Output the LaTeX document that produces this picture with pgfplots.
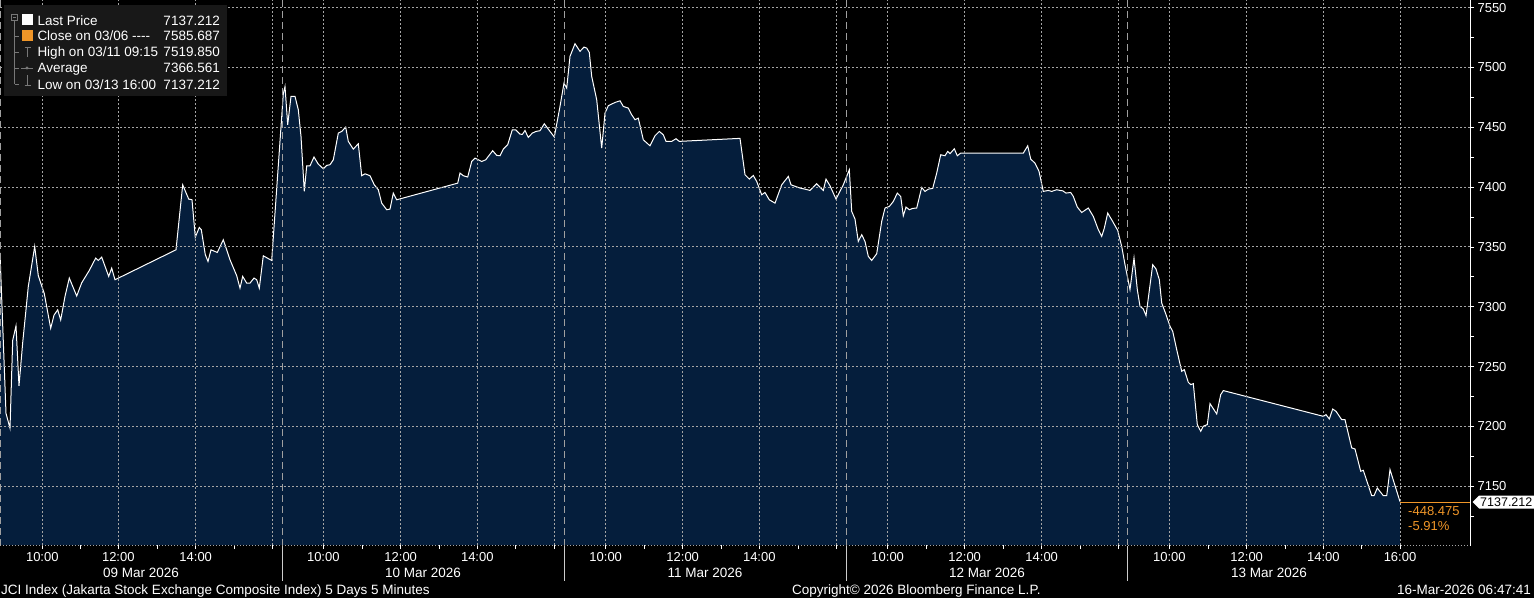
\documentclass[border=0pt]{standalone}
\usepackage{fontspec}
\setmainfont{Liberation Sans}
\usepackage{pgfplots}
\usepackage{pgfplotstable}
\pgfplotsset{compat=1.18}

\definecolor{navy}{RGB}{5,30,60}
\definecolor{bbgorange}{RGB}{240,150,40}
\definecolor{gridgray}{RGB}{165,165,165}
\definecolor{divgray}{RGB}{160,160,160}
\definecolor{legbg}{RGB}{24,24,24}
\definecolor{treegray}{RGB}{120,120,120}

% JCI 5 days, x = position along the time axis (px), y = index level
\pgfplotstableread{
x y
0 7345
6 7211
10 7198.6
12.7 7272
16 7284
19 7234
22.7 7270
28.3 7317
34.7 7350.4
38.3 7326
44.3 7311
50.7 7282
54 7293
57.7 7297.5
60.7 7289
65 7308.7
69.3 7324
76.7 7309
81.7 7320
89.3 7330.4
95.7 7340.7
98.3 7338.7
101.7 7341.5
108.7 7325.4
111.7 7332.3
115 7322.6
176 7347.6
182.7 7401.9
188.7 7390
192 7389.4
195.3 7358.2
199.3 7366.3
201.3 7364.4
205.3 7343.5
208 7337.9
211 7347.6
217.3 7345.4
223.3 7356
230 7339.3
236.7 7326
240 7315.6
242.7 7325.4
246.7 7319.8
250 7319.8
254 7324
256.7 7322.6
259.3 7315.6
263.3 7342.6
271.7 7338.7
283.3 7478
285 7484
287.7 7452.1
291 7475.8
295 7475.8
298.3 7464.6
301 7442.3
304.3 7396.4
306.7 7417.8
310 7417.8
314 7425.1
318.3 7419.2
323.3 7415.3
326.7 7418.1
330 7418.7
333.3 7422.8
338.3 7445.1
341.7 7446.5
345.7 7450.1
348.3 7438.2
353.3 7431.7
358.3 7436.2
361.7 7409.5
365 7411.1
370 7409.5
374.3 7401.9
378.3 7397.8
381.7 7386.6
386.7 7381.1
390 7381.6
393.3 7395
396.7 7389.4
457.7 7403.3
460 7411.7
463.3 7409.5
467.7 7408.4
471.7 7421.4
475 7424.2
481.7 7421.4
485.7 7422.8
492.7 7430.4
496.7 7426.5
500 7426.2
503.3 7431.7
507.7 7435.4
512.3 7447.9
515.7 7447.9
520 7444.3
522.3 7444
525 7447.3
528.3 7441.5
532.3 7445.1
536 7446.5
540 7447.1
544.3 7452.9
554.3 7441.8
560 7467.4
564 7486.9
566.7 7482.7
570 7509.2
575 7519.8
580 7513.4
584 7517
586.7 7516.1
589.3 7512.5
591.7 7492.5
596.7 7473
601.7 7432.6
605 7461.8
608.3 7468
615 7470.7
620 7472.1
623.3 7467.4
628.3 7466
631.7 7460.4
635 7456.3
638.3 7457.6
643.3 7439.5
650 7434.5
655 7442.9
659.3 7446.5
663.3 7443.7
666 7438.2
671.7 7438.2
676 7440.4
679.3 7438.2
740 7440.7
745 7410.3
749.3 7406.7
753.3 7409.7
756.7 7404.7
761.7 7393.6
765 7395.5
769.3 7389.4
775 7386.6
781.7 7401.9
788.3 7408.9
791 7401.9
800 7399.2
805 7398.3
810 7397.2
816.7 7402.8
823.3 7397.2
826 7406.7
830 7401.1
836 7390
843.3 7401.9
849.3 7414.5
851.7 7379.7
855 7373.3
858.3 7354.6
861.7 7360.2
865 7354.6
868.3 7342.1
871.7 7338.7
876.7 7344.3
881.7 7371.3
885 7382.5
889.3 7383.8
893.3 7388
897.3 7395
900.7 7392.2
903.3 7376
906 7383.3
909.3 7381.1
912.7 7382.2
916.7 7382.5
921.7 7399.7
925 7396.4
928.3 7398.3
932.7 7398.9
936.7 7411.7
940.7 7427
945 7426.2
947.7 7429.8
950 7427.9
954.3 7432
957.3 7426.2
960.7 7428.4
1023.3 7428.4
1027.7 7434.5
1030.7 7423.4
1035 7420
1039 7413.1
1043.3 7396.4
1048.3 7397.2
1051.7 7396.4
1056.7 7397.8
1060 7397.2
1062.7 7396.9
1066 7395
1070.7 7395.5
1073.3 7392.2
1077.3 7383.3
1081.7 7378.8
1088.3 7382.5
1093.3 7375.5
1098.3 7364.4
1101.7 7358.8
1104.3 7365.7
1107.7 7378.3
1111.7 7372.7
1117.7 7363.8
1121.7 7350.4
1125 7335.2
1130 7314.4
1134 7340.8
1137.3 7314.4
1140 7300.4
1143.3 7298.2
1146 7292.6
1152.7 7335.2
1156 7331.6
1159.3 7322.7
1161.7 7303.2
1166 7293.5
1170 7283.7
1172.7 7279.5
1176.7 7264.2
1181.7 7246.1
1184.3 7247.5
1188.3 7236.9
1190.7 7235
1193.3 7235.8
1197.3 7201.6
1200.7 7196
1203.3 7200.2
1207.3 7201.6
1210 7219.1
1216.7 7210.5
1220.7 7226.6
1223.3 7230
1323.3 7208.5
1326 7209.9
1329.3 7206.3
1332.7 7214.6
1336 7212.7
1341.7 7205.7
1345 7205.7
1351.7 7182.1
1355 7181.2
1360.7 7162.6
1363.3 7163.4
1371.7 7142.2
1374 7142.2
1377.3 7148.6
1383.3 7142.2
1386.7 7142.2
1390 7164
1400 7137.212
}\jci

\begin{document}
\begin{tikzpicture}
\fill[black] (0pt,-53pt) rectangle (1534pt,545pt);
\begin{axis}[
  at={(0pt,0pt)}, anchor=south west,
  axis on top,
  x=1pt, y=1.197pt,
  xmin=0, xmax=1470, ymin=7101, ymax=7556.5,
  axis line style={draw=none},
  tick style={white, line width=0.8pt},
  tick align=outside,
  major tick length=4pt, minor tick length=4pt,
  xtick pos=bottom, ytick pos=right, yticklabel pos=right,
  ytick={7150,7200,...,7550},
  minor ytick={7125,7175,...,7525},
  xtick={42.3,118.3,195.7,323.3,400.7,477.3,605.7,682.7,759.3,887.7,964.7,1041.7,1169.3,1246.7,1323.3,1400},
  xticklabels={10:00,12:00,14:00,10:00,12:00,14:00,10:00,12:00,14:00,10:00,12:00,14:00,10:00,12:00,14:00,16:00},
  minor xtick={80.3,157,234.2,362,439,515.8,644.2,721,798,926.2,1003.2,1080.2,1208,1285,1361.7},
  extra x ticks={272.7,554.3,836.7,1118.7},
  extra x tick labels={},
  grid=major,
  major grid style={gridgray, line width=0.9pt, dash pattern=on 1.6pt off 2.4pt},
  ticklabel style={font=\fontsize{13}{15}\selectfont, text=white},
  /pgf/number format/1000 sep={},
  /pgf/number format/assume math mode=true,
]
\addplot[draw=none, fill=navy] table[x=x,y=y]{\jci} \closedcycle;
\addplot[white, line width=1pt] table[x=x,y=y]{\jci};
\end{axis}
\begin{scope}[x=1pt, y=-1pt, yshift=545pt]
  \tikzset{txt/.style={inner sep=0, text=white, font=\fontsize{13.5}{15}\selectfont}}
  % day dividers
  \foreach \d in {0.6,282.5,564,846,1127.5}
    \draw[divgray, line width=0.9pt, dash pattern=on 7pt off 4pt] (\d,0) -- (\d,545);
  \foreach \d in {282.5,564,846,1127.5}
    \draw[white!80!black, line width=0.8pt] (\d,546) -- (\d,581);
  % axis lines
  \draw[gridgray, line width=0.8pt, dash pattern=on 1.4pt off 1.6pt] (0,545) -- (1470,545);
  \draw[white, line width=0.9pt] (1470,0) -- (1470,545.5);
  % date labels
  \foreach \c/\t in {141/09 Mar 2026,423/10 Mar 2026,705/11 Mar 2026,987/12 Mar 2026,1269/13 Mar 2026}
    \node[txt, anchor=base] at (\c,577.5) {\t};
  % footer
  \node[txt, anchor=base west] at (1,594) {JCI Index (Jakarta Stock Exchange Composite Index) 5 Days 5 Minutes};
  \node[txt, anchor=base west] at (792,594) {Copyright© 2026 Bloomberg Finance L.P.};
  \node[txt, anchor=base east] at (1531,594) {16-Mar-2026 06:47:41};
  % last price marker
  \draw[bbgorange, line width=0.9pt] (1400,502) -- (1470,502);
  \fill[white] (1472.7,502) -- (1479,495.5) -- (1534,495.5) -- (1534,508.5) -- (1479,508.5) -- cycle;
  \node[anchor=base west, inner sep=0, text=black, font=\fontsize{12.5}{14}\selectfont] at (1480,506.8) {7137.212};
  \node[anchor=base west, inner sep=0, text=bbgorange, font=\fontsize{13}{15}\selectfont] at (1408,515) {-448.475};
  \node[anchor=base west, inner sep=0, text=bbgorange, font=\fontsize{13}{15}\selectfont] at (1408,530.7) {-5.91\%};
  % legend
  \fill[legbg] (3.5,5) rectangle (226.5,96.5);
  \draw[treegray, line width=0.7pt] (11.5,14.5) rectangle (17.5,20.5);
  \draw[treegray, line width=0.7pt] (12.8,17.5) -- (16.2,17.5);
  \draw[treegray, line width=0.7pt] (14.5,20.5) -- (14.5,84.5);
  \foreach \r in {36.5,52.5,68.5,84.5}
    \draw[treegray, line width=0.7pt] (14.5,\r) -- (18.5,\r);
  \fill[white] (21.5,14.5) rectangle (32.5,25.5);
  \fill[bbgorange] (21.5,30.5) rectangle (32.5,41.5);
  \draw[treegray, line width=0.8pt] (24.5,47) -- (30.5,47) (27.5,47) -- (27.5,57);
  \draw[treegray, line width=0.8pt] (21,68) -- (33,68);
  \fill[treegray] (27,68) circle (1.6);
  \draw[treegray, line width=0.8pt] (27.5,75) -- (27.5,85) (24.5,85) -- (30.5,85);
  \node[txt, anchor=base west] at (37.3,25.3) {Last Price};
  \node[txt, anchor=base west] at (37.3,40.7) {Close on 03/06 {-}{-}{-}{-}};
  \node[txt, anchor=base west] at (37.3,56.7) {High on 03/11 09:15};
  \node[txt, anchor=base west] at (37.3,72.7) {Average};
  \node[txt, anchor=base west] at (37.3,89.3) {Low on 03/13 16:00};
  \node[txt, anchor=base east] at (220,25.3) {7137.212};
  \node[txt, anchor=base east] at (220,40.7) {7585.687};
  \node[txt, anchor=base east] at (220,56.7) {7519.850};
  \node[txt, anchor=base east] at (220,72.7) {7366.561};
  \node[txt, anchor=base east] at (220,89.3) {7137.212};
  \pgfresetboundingbox
  \path[use as bounding box] (0,0) rectangle (1534,598);
\end{scope}
\end{tikzpicture}
\end{document}
